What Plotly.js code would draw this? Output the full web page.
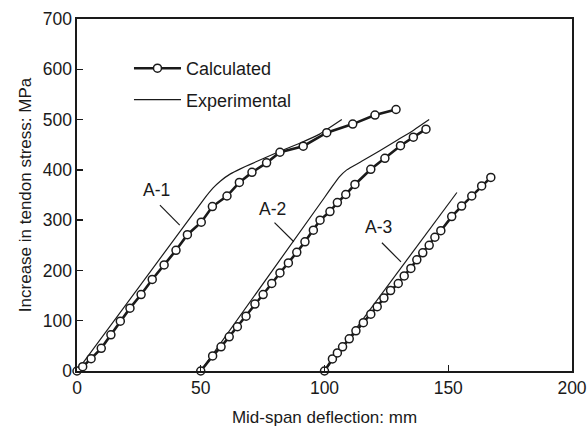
<!DOCTYPE html>
<html>
<head>
<meta charset="utf-8">
<script src="https://cdn.plot.ly/plotly-3.0.1.min.js"></script>
<style>html,body{margin:0;padding:0;background:#fff;}#chart{width:588px;height:431px;}</style>
</head>
<body>
<div id="chart"></div>
<script>
// ---- data ----
const seriesNames = ['Calculated', 'Experimental'];
const specimenLabels = ['A-1', 'A-2', 'A-3'];

const a1CalcX = [0, 2.3, 5.7, 9.8, 13.7, 17.5, 21.4, 25.9, 30.4, 35.2, 40, 44.6, 50.2, 54.7, 60.6, 65.6, 70.7, 76.6, 82, 91.4, 100.9, 111.4, 120.4, 128.9];
const a1CalcY = [0, 8.5, 24.5, 45, 72, 99, 125, 152, 182, 211, 240, 271, 296, 327, 348, 375, 395, 414, 435, 447, 474, 491, 509, 520];

const a2CalcX = [50, 54.8, 58.2, 61.5, 64.8, 68.3, 71.9, 75.2, 78.7, 82.0, 85.4, 88.8, 92.1, 95.5, 98.2, 102.2, 105.2, 108.6, 112.3, 118.7, 124.4, 130.7, 135.9, 141];
const a2CalcY = [0, 30, 48, 68, 88, 109, 133, 152, 174, 195, 215, 236, 257, 280, 300, 317, 335, 351, 371, 401, 423, 448, 465, 481];

const a3CalcX = [100, 103.2, 105.2, 107.3, 110, 112.7, 115.7, 118.7, 121.3, 124, 126.7, 129.8, 132.2, 134.9, 137.3, 139.7, 142.3, 144.6, 147, 151.4, 155.4, 159.5, 163.5, 167.2];
const a3CalcY = [0, 24, 36, 48, 64, 80, 96, 113, 128, 145, 160, 174, 189, 204, 221, 235, 250, 266, 279, 307, 328, 348, 368, 385];

const a1ExpX = [0, 51, 55, 58, 62, 66, 70, 76, 82, 90, 98, 107];
const a1ExpY = [0, 340, 364, 378, 392, 402, 411, 424, 437, 453, 471, 500];

const a2ExpX = [50, 100, 103, 106, 109, 115, 122, 129, 136, 142.3];
const a2ExpY = [0, 345, 366, 386, 400, 417, 437, 458, 479, 500];

const a3ExpX = [100, 153.5];
const a3ExpY = [0, 355];

const xTicks = [0, 50, 100, 150, 200];
const yTicks = [0, 100, 200, 300, 400, 500, 600, 700];

// label anchor positions (data units) and leader lines
const labelPos = [[32.1, 359], [78.8, 323], [122, 286]];
const leaderLines = [[[33.5, 330], [41.5, 290]], [[79.8, 295], [87.6, 257]], [[123.2, 255], [130.9, 217]]];

// ---- styles ----
const FONT = 'Liberation Sans, Arial, Helvetica, sans-serif';
const INK = '#1a1a1a';

function calcTrace(x, y, show) {
  return {
    x: x, y: y, type: 'scatter', mode: 'lines+markers',
    name: seriesNames[0], legendgroup: 'calc', showlegend: show,
    line: {color: INK, width: 2.6},
    marker: {symbol: 'circle', size: 8, color: '#ffffff', line: {color: INK, width: 1.5}},
    cliponaxis: false
  };
}
function expTrace(x, y, show) {
  return {
    x: x, y: y, type: 'scatter', mode: 'lines',
    name: seriesNames[1], legendgroup: 'exp', showlegend: show,
    line: {color: INK, width: 1.2, shape: 'spline', smoothing: 0.4},
    cliponaxis: false
  };
}

const traces = [
  expTrace(a1ExpX, a1ExpY, false),
  expTrace(a2ExpX, a2ExpY, false),
  expTrace(a3ExpX, a3ExpY, false),
  calcTrace(a1CalcX, a1CalcY, true),
  calcTrace(a2CalcX, a2CalcY, false),
  calcTrace(a3CalcX, a3CalcY, false),
  expTrace([null], [null], true)
];

const annotations = specimenLabels.map((t, i) => ({
  x: labelPos[i][0], y: labelPos[i][1], xref: 'x', yref: 'y',
  text: t, showarrow: false, font: {family: FONT, size: 17.5, color: INK}
}));

const shapes = leaderLines.map(l => ({
  type: 'line', xref: 'x', yref: 'y',
  x0: l[0][0], y0: l[0][1], x1: l[1][0], y1: l[1][1],
  line: {color: INK, width: 1.2}
}));

const layout = {
  width: 588, height: 431,
  margin: {l: 77, r: 16, t: 19, b: 60},
  paper_bgcolor: '#ffffff', plot_bgcolor: '#ffffff',
  font: {family: FONT, size: 17, color: INK},
  showlegend: true,
  legend: {
    x: 0.105, y: 0.912, xanchor: 'left', yanchor: 'top',
    bgcolor: 'rgba(0,0,0,0)', borderwidth: 0,
    font: {family: FONT, size: 18, color: INK},
    traceorder: 'grouped', tracegroupgap: 5, itemwidth: 47
  },
  xaxis: {
    range: [0, 200], tickvals: xTicks, ticktext: xTicks.map(String),
    ticks: 'inside', ticklen: 6, tickwidth: 1.3, tickcolor: INK,
    showline: true, linecolor: INK, linewidth: 1.6, mirror: true,
    showgrid: false, zeroline: false,
    tickfont: {family: FONT, size: 17.5, color: INK},
    title: {text: 'Mid-span deflection: mm', font: {family: FONT, size: 17, color: INK}, standoff: 14}
  },
  yaxis: {
    range: [0, 700], tickvals: yTicks, ticktext: yTicks.map(String),
    ticks: 'inside', ticklen: 6, tickwidth: 1.3, tickcolor: INK,
    showline: true, linecolor: INK, linewidth: 1.6, mirror: true,
    showgrid: false, zeroline: false,
    tickfont: {family: FONT, size: 17.5, color: INK},
    title: {text: 'Increase in tendon stress: MPa', font: {family: FONT, size: 17, color: INK}, standoff: 7}
  },
  annotations: annotations,
  shapes: shapes
};

Plotly.newPlot('chart', traces, layout, {displayModeBar: false, staticPlot: true});
</script>
</body>
</html>
